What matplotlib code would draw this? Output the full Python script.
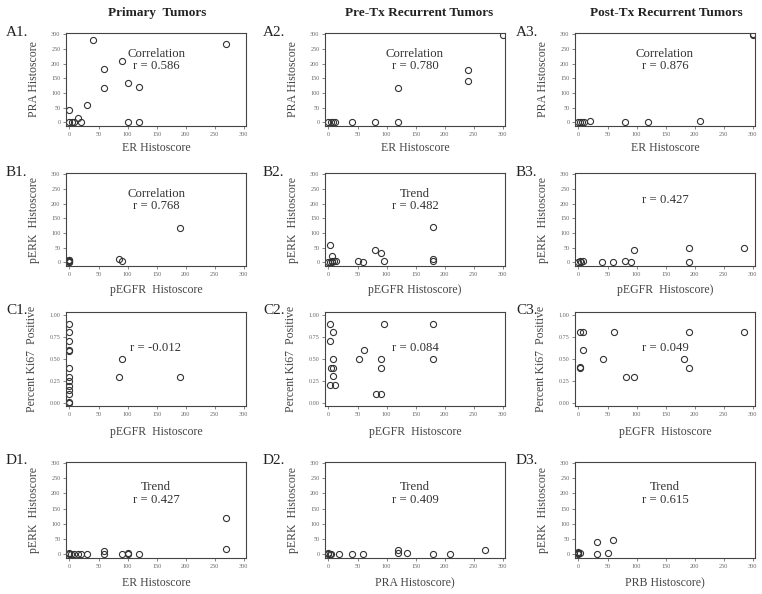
import matplotlib
matplotlib.use('Agg')
import matplotlib.pyplot as plt

# ---------------- data ----------------
col_titles = ["Primary  Tumors", "Pre-Tx Recurrent Tumors", "Post-Tx Recurrent Tumors"]

a1_x = [0, 0, 5, 8, 15, 20, 30, 40, 60, 60, 90, 100, 100, 120, 120, 270]
a1_y = [40, 0, 0, 2, 15, 0, 60, 280, 180, 117, 210, 135, 0, 120, 0, 265]
a2_x = [0, 5, 8, 12, 40, 80, 120, 120, 240, 240, 300]
a2_y = [0, 0, 0, 0, 0, 0, 0, 117, 178, 140, 297]
a3_x = [0, 3, 6, 10, 20, 80, 120, 210, 300, 300]
a3_y = [0, 0, 0, 0, 3, 0, 0, 5, 300, 296]

b1_x = [0, 0, 0, 0, 0, 85, 90, 190]
b1_y = [0, 3, 6, 9, 0, 12, 3, 116]
b2_x = [3, 0, 2, 6, 6, 9, 6, 13, 50, 60, 80, 90, 95, 180, 180, 180]
b2_y = [60, 0, 0, 20, 3, 5, 0, 5, 5, 0, 40, 30, 5, 120, 10, 5]
b3_x = [2, 5, 8, 0, 40, 60, 80, 90, 95, 190, 190, 285]
b3_y = [5, 2, 5, 0, 0, 0, 5, 0, 40, 50, 0, 50]

c1_x = [0, 0, 0, 0, 0, 0, 0, 0, 0, 0, 0, 0, 0, 90, 85, 190]
c1_y = [0.90, 0.80, 0.70, 0.60, 0.59, 0.40, 0.30, 0.25, 0.20, 0.15, 0.10, 0.0, 0.01, 0.50, 0.30, 0.30]
c2_x = [3, 8, 3, 8, 4, 8, 8, 3, 12, 52, 62, 82, 91, 91, 91, 96, 180, 180]
c2_y = [0.90, 0.80, 0.70, 0.50, 0.40, 0.40, 0.31, 0.21, 0.21, 0.50, 0.60, 0.10, 0.10, 0.50, 0.40, 0.90, 0.90, 0.50]
c3_x = [2, 7, 2, 2, 8, 42, 62, 82, 96, 181, 190, 190, 285]
c3_y = [0.80, 0.80, 0.40, 0.41, 0.60, 0.50, 0.80, 0.30, 0.30, 0.50, 0.80, 0.40, 0.80]

d1_x = [0, 0, 3, 7, 14, 20, 30, 60, 60, 90, 100, 100, 120, 270, 270]
d1_y = [5, 0, 0, 0, 0, 0, 0, 10, 0, 0, 5, 0, 0, 120, 16]
d2_x = [0, 0, 2, 5, 18, 40, 60, 120, 120, 135, 180, 210, 270]
d2_y = [3, 0, 0, 0, 0, 0, 0, 12, 2, 3, 0, 0, 15]
d3_x = [0, 0, 0, 0, 2, 32, 32, 51, 60]
d3_y = [0, 2, 5, 8, 3, 40, 0, 3, 48]

panel_ids = ["A1.", "A2.", "A3.", "B1.", "B2.", "B3.", "C1.", "C2.", "C3.", "D1.", "D2.", "D3."]
x_labels = ["ER Histoscore", "ER Histoscore", "ER Histoscore",
            "pEGFR  Histoscore", "pEGFR Histoscore)", "pEGFR  Histoscore)",
            "pEGFR  Histoscore", "pEGFR  Histoscore", "pEGFR  Histoscore",
            "ER Histoscore", "PRA Histoscore)", "PRB Histoscore)"]
y_labels = ["PRA Histoscore"] * 3 + ["pERK  Histoscore"] * 3 + \
           ["Percent Ki67  Positive"] * 3 + ["pERK  Histoscore"] * 3
notes = ["Correlation\nr = 0.586", "Correlation\nr = 0.780", "Correlation\nr = 0.876",
         "Correlation\nr = 0.768", "Trend\nr = 0.482", "r = 0.427",
         "r = -0.012", "r = 0.084", "r = 0.049",
         "Trend\nr = 0.427", "Trend\nr = 0.409", "Trend\nr = 0.615"]
xs = [a1_x, a2_x, a3_x, b1_x, b2_x, b3_x, c1_x, c2_x, c3_x, d1_x, d2_x, d3_x]
ys = [a1_y, a2_y, a3_y, b1_y, b2_y, b3_y, c1_y, c2_y, c3_y, d1_y, d2_y, d3_y]

hist_ticks = [0, 50, 100, 150, 200, 250, 300]
ki_ticks = [0.0, 0.25, 0.5, 0.75, 1.0]
ki_ticklabels = ["0.00", "0.25", "0.50", "0.75", "1.00"]

# ---------------- layout ----------------
W, H = 762, 594
fig = plt.figure(figsize=(W / 100, H / 100), dpi=100)
plt.rcParams['font.family'] = ['Liberation Serif', 'DejaVu Serif']

col_left = [66, 325, 575]
col_w = 180
row_top = [33, 173, 312, 462]
row_h = [93, 93, 94, 96]
note_y = [0.71, 0.71, 0.62, 0.67]
col_title_x = [157, 419, 666]
label_x = [6, 263, 516]
xlabel_pad = [4, 5, 7, 6]

for c, t in enumerate(col_titles):
    fig.text(col_title_x[c] / W, 1 - 13 / H, t, ha='center', va='center',
             fontsize=9.5, fontweight='bold', color='#222')

for i in range(12):
    r, c = divmod(i, 3)
    left = col_left[c] / W
    bottom = 1 - (row_top[r] + row_h[r]) / H
    ax = fig.add_axes([left, bottom, col_w / W, row_h[r] / H])
    ax.plot(xs[i], ys[i], linestyle='none', marker='o', markersize=4.4,
            markerfacecolor='none', markeredgecolor='#333', markeredgewidth=0.8)
    ax.set_xlim(-6, 304)
    ax.set_xticks(hist_ticks)
    if r == 2:
        ax.set_ylim(-0.03, 1.03)
        ax.set_yticks(ki_ticks)
        ax.set_yticklabels(ki_ticklabels)
    else:
        ax.set_ylim(-13, 304)
        ax.set_yticks(hist_ticks)
    ax.tick_params(labelsize=4.4, labelcolor='#666', length=2, width=0.5,
                   color='#555', pad=2)
    for s in ax.spines.values():
        s.set_color('#444')
        s.set_linewidth(0.8)
    ax.set_xlabel(x_labels[i], fontsize=8.5, color='#444', labelpad=xlabel_pad[r])
    ax.set_ylabel(y_labels[i], fontsize=8.5, color='#444', labelpad=8)
    ax.text(0.5, note_y[r], notes[i], transform=ax.transAxes, ha='center',
            va='center', fontsize=9.2, color='#333', linespacing=1.1)
    fig.text(label_x[c] / W, 1 - (row_top[r] - 1) / H, panel_ids[i],
             ha='left', va='center', fontsize=11, color='#222')

fig.savefig('out.png', dpi=100)
